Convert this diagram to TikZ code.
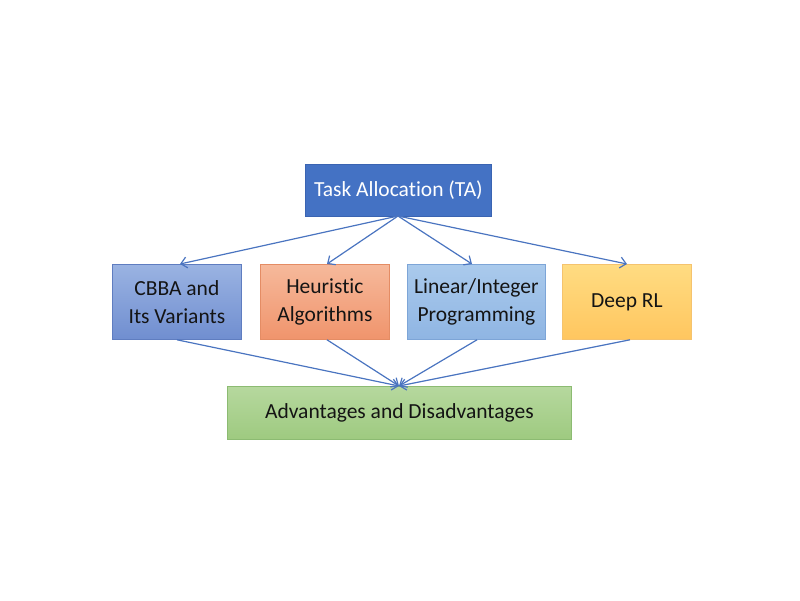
\documentclass[tikz,border=0pt]{standalone}
\usepackage{fontspec}
\setmainfont[Ligatures={NoCommon}]{Carlito}
\usetikzlibrary{arrows.meta}
\definecolor{tablue}{HTML}{4472C4}
\definecolor{arr}{HTML}{4A74C0}
\tikzset{
  box/.style={draw, line width=0.8pt, minimum width=129pt, minimum height=75pt, inner sep=0pt,
    align=center, text=black!92, font=\fontsize{21.5}{28}\selectfont, anchor=north west},
  conn/.style={draw=arr, line width=1.2pt, -{Straight Barb[length=6pt,width=11pt,line width=1.2pt]}},
}
\begin{document}
\begin{tikzpicture}[x=1pt,y=-1pt]
\useasboundingbox (0,0) rectangle (800,600);
\node[box, fill=tablue, draw={rgb,255:red,58;green,100;blue,178}, text=white, minimum width=186pt, minimum height=52pt] (ta) at (305,164) {Task Allocation (TA)};
\node[box, top color={rgb,255:red,154;green,179;blue,226}, bottom color={rgb,255:red,112;green,142;blue,208}, draw={rgb,255:red,95;green,125;blue,192}] (cbba) at (112,264) {CBBA and\\Its Variants};
\node[box, top color={rgb,255:red,246;green,185;blue,155}, bottom color={rgb,255:red,240;green,148;blue,108}, draw={rgb,255:red,228;green,140;blue,100}] (heur) at (260,264) {Heuristic\\Algorithms};
\node[box, minimum width=138pt, top color={rgb,255:red,170;green,202;blue,236}, bottom color={rgb,255:red,143;green,181;blue,227}, draw={rgb,255:red,125;green,165;blue,215}] (lin) at (407,264) {Linear/Integer\\Programming};
\node[box, top color={rgb,255:red,255;green,220;blue,130}, bottom color={rgb,255:red,255;green,198;blue,95}, draw={rgb,255:red,245;green,195;blue,110}] (drl) at (562,264) {Deep RL};
\node[box, minimum width=344pt, minimum height=53pt, top color={rgb,255:red,182;green,216;blue,158}, bottom color={rgb,255:red,158;green,202;blue,128}, draw={rgb,255:red,140;green,187;blue,114}] (adv) at (227,386) {Advantages and Disadvantages};
\coordinate (tab) at (398,216);
\coordinate (advt) at (399,386);
\draw[conn] (tab) -- (cbba.north -| 180,0);
\draw[conn] (tab) -- (heur.north -| 327,0);
\draw[conn] (tab) -- (lin.north -| 472,0);
\draw[conn] (tab) -- (drl.north -| 627,0);
\draw[conn] (cbba.south -| 177,0) -- (advt);
\draw[conn] (heur.south -| 327,0) -- (advt);
\draw[conn] (lin.south -| 477,0) -- (advt);
\draw[conn] (drl.south -| 630,0) -- (advt);
\end{tikzpicture}
\end{document}
